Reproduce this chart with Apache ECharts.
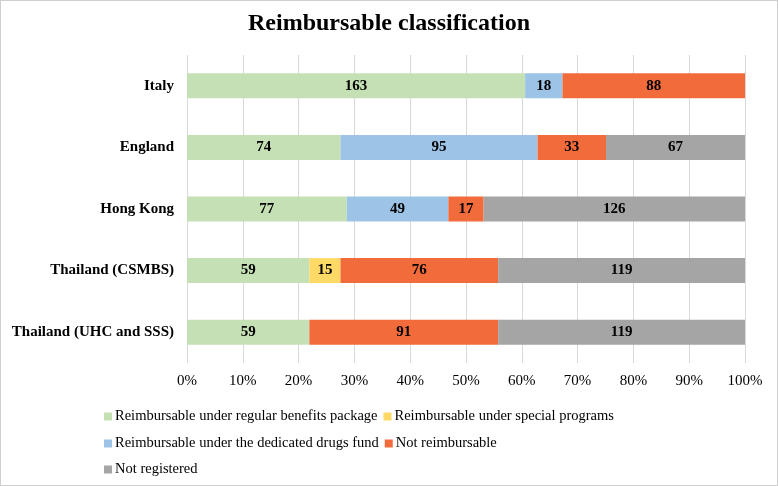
<!DOCTYPE html>
<html>
<head>
<meta charset="utf-8">
<script src="https://cdn.jsdelivr.net/npm/echarts@6/dist/echarts.min.js"></script>
<style>
  html, body { margin: 0; padding: 0; background: #fff; }
  #chart { width: 778px; height: 486px; box-sizing: border-box; border: 1px solid #cfcfcf; }
</style>
</head>
<body>
<div id="chart"></div>
<script>
const categories = ['Italy', 'England', 'Hong Kong', 'Thailand (CSMBS)', 'Thailand (UHC and SSS)'];
const seriesNames = [
  'Reimbursable under regular benefits package',
  'Reimbursable under special programs',
  'Reimbursable under the dedicated drugs fund',
  'Not reimbursable',
  'Not registered'
];
const regularBenefits = [163, 74, 77, 59, 59];
const specialPrograms = [null, null, null, 15, null];
const dedicatedFund   = [18, 95, 49, null, null];
const notReimbursable = [88, 33, 17, 76, 91];
const notRegistered   = [null, 67, 126, 119, 119];
const xTickLabels = ['0%','10%','20%','30%','40%','50%','60%','70%','80%','90%','100%'];

const rawSeries = [regularBenefits, specialPrograms, dedicatedFund, notReimbursable, notRegistered];
const colors = ['#C5E0B4', '#FFD966', '#9DC3E6', '#F26B3B', '#A5A5A5'];

const totals = categories.map((_, i) => rawSeries.reduce((s, arr) => s + (arr[i] || 0), 0));

const FONT = '"Liberation Serif", "Times New Roman", serif';

const chart = echarts.init(document.getElementById('chart'), null, { renderer: 'canvas' });

const series = rawSeries.map((arr, k) => ({
  name: seriesNames[k],
  type: 'bar',
  stack: 'total',
  barWidth: 25,
  itemStyle: { color: colors[k] },
  label: {
    show: true,
    position: 'inside',
    fontFamily: FONT,
    fontWeight: 'bold',
    fontSize: 15,
    color: '#000',
    formatter: p => (p.data && p.data.raw != null) ? String(p.data.raw) : ''
  },
  emphasis: { disabled: true },
  data: arr.map((v, i) => v == null ? { value: '-', raw: null } : { value: v / totals[i] * 100, raw: v })
}));

const legendBase = {
  left: 98,
  itemWidth: 8,
  itemHeight: 8,
  itemGap: 6,
  icon: 'rect',
  textStyle: { fontFamily: FONT, fontSize: 14.5, color: '#000', padding: [0, 0, 0, -2] },
  selectedMode: false
};

chart.setOption({
  animation: false,
  title: {
    text: 'Reimbursable classification',
    left: 'center',
    top: 6,
    textStyle: { fontFamily: FONT, fontWeight: 'bold', fontSize: 24, color: '#000' }
  },
  legend: [
    Object.assign({}, legendBase, { top: 403, data: [seriesNames[0], seriesNames[1]] }),
    Object.assign({}, legendBase, { top: 430, data: [seriesNames[2], seriesNames[3]] }),
    Object.assign({}, legendBase, { top: 456, data: [seriesNames[4]] })
  ],
  grid: { left: 186, right: 32, top: 54, bottom: 122, containLabel: false },
  xAxis: {
    type: 'value',
    min: 0,
    max: 100,
    interval: 10,
    axisLine: { show: false },
    axisTick: { show: false },
    splitLine: { show: true, lineStyle: { color: '#d9d9d9', width: 1 } },
    axisLabel: {
      fontFamily: FONT, fontSize: 15, color: '#000', margin: 11,
      formatter: v => xTickLabels[Math.round(v / 10)]
    }
  },
  yAxis: {
    type: 'category',
    inverse: true,
    data: categories,
    axisLine: { show: false },
    axisTick: { show: false },
    axisLabel: { fontFamily: FONT, fontSize: 15, fontWeight: 'bold', color: '#000', margin: 13 }
  },
  series: series
});
</script>
</body>
</html>
